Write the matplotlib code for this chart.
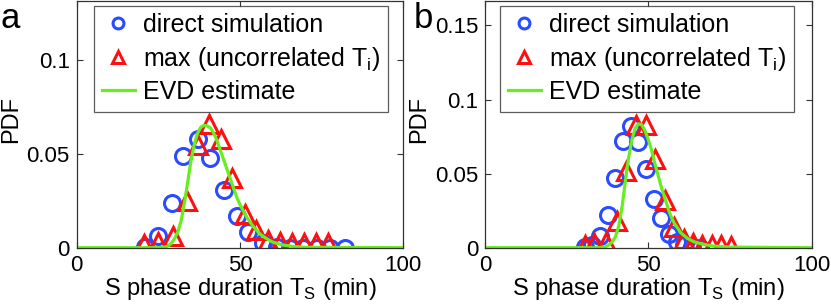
import matplotlib
matplotlib.use('Agg')
import matplotlib.pyplot as plt

plt.rcParams['font.family'] = ['Liberation Sans', 'DejaVu Sans']
plt.rcParams['font.size'] = 17

# panel a: direct simulation (circles)
a_sim_x = [20.9, 25.0, 29.1, 32.7, 37.3, 40.9, 45.1, 49.0, 52.6, 57.1, 61.2, 65.3, 69.4, 73.5, 77.6, 82.1]
a_sim_y = [0.0005, 0.006, 0.024, 0.049, 0.058, 0.048, 0.031, 0.0167, 0.0082, 0.0027, 0.0005, 0.0, 0.0, 0.0, 0.0, 0.0]
# panel a: max of uncorrelated T_i (triangles)
a_max_x = [20.6, 25.0, 29.6, 33.7, 37.0, 40.6, 44.2, 47.7, 51.4, 55.0, 58.7, 62.3, 65.9, 69.5, 73.3, 77.0]
a_max_y = [0.002, 0.003, 0.0065, 0.025, 0.055, 0.066, 0.058, 0.037, 0.018, 0.0095, 0.004, 0.003, 0.0025, 0.0025, 0.0025, 0.0025]
# panel a: EVD estimate
a_evd_x = [0, 25, 27, 28, 29, 30, 31, 32, 33, 34, 35, 36, 37, 38, 39, 40, 41, 42, 43, 44, 45,
           46, 47, 48, 49, 50, 52, 54, 56, 58, 60, 63, 66, 70, 100]
a_evd_y = [0, 0, 0.0003, 0.001, 0.0023, 0.005, 0.0085, 0.0145, 0.024, 0.035, 0.0465, 0.055, 0.061,
           0.0643, 0.0653, 0.065, 0.0638, 0.061, 0.057, 0.052, 0.047, 0.042, 0.037, 0.032, 0.027,
           0.023, 0.0165, 0.0115, 0.0075, 0.005, 0.003, 0.0015, 0.0007, 0.0002, 0]

# panel b
b_sim_x = [30.5, 32.9, 35.2, 37.6, 39.9, 42.3, 44.8, 47.0, 49.3, 51.7, 54.0, 56.4, 58.7, 61.1, 63.4, 65.8]
b_sim_y = [0.0005, 0.002, 0.008, 0.022, 0.047, 0.072, 0.082, 0.071, 0.053, 0.033, 0.020, 0.009, 0.004, 0.0015, 0.0004, 0.0]
b_max_x = [30.5, 33.5, 37.0, 40.4, 43.3, 46.2, 49.3, 52.2, 55.0, 57.9, 60.8, 63.6, 66.6, 69.5, 72.4, 75.4]
b_max_y = [0.002, 0.003, 0.004, 0.018, 0.052, 0.083, 0.083, 0.060, 0.032, 0.014, 0.006, 0.003, 0.002, 0.002, 0.002, 0.001]
b_evd_x = [0, 35, 37, 38, 39, 40, 41, 42, 43, 44, 45, 46, 47, 48, 49, 50, 51, 52, 53, 54, 55,
           56, 57, 58, 60, 62, 64, 67, 70, 75, 100]
b_evd_y = [0, 0, 0.0007, 0.002, 0.004, 0.0075, 0.015, 0.028, 0.045, 0.061, 0.073, 0.0805, 0.0836,
           0.083, 0.079, 0.073, 0.066, 0.057, 0.049, 0.041, 0.034, 0.027, 0.021, 0.0165, 0.010,
           0.0063, 0.004, 0.0022, 0.0011, 0.0004, 0]

xticks = [0, 50, 100]
a_yticks = [0, 0.05, 0.1]
b_yticks = [0, 0.05, 0.1, 0.15]
a_ylabels = ['0', '0.05', '0.1']
b_ylabels = ['0', '0.05', '0.1', '0.15']

blue = '#2a4bff'
red = '#ff1010'
green = '#66ee1e'

W, H = 831, 307
fig = plt.figure(figsize=(W/100, H/100), dpi=100)

def panel(left, ymax, sx, sy, mx, my, ex, ey, yt, yl, leg_x, tag, tag_x):
    ax = fig.add_axes([left/W, 1 - 247.7/H, 326.5/W, 247.0/H])
    ax.plot(sx, sy, 'o', ms=11.5, mfc='none', mec=blue, mew=2.2, label='direct simulation')
    ax.plot(mx, my, '^', ms=13, mfc='none', mec=red, mew=2.2,
            label='max (uncorrelated T$_\\mathregular{i}$)')
    ax.plot(ex, ey, '-', color=green, lw=2.3, label='EVD estimate')
    ax.set_xlim(0, 100)
    ax.set_ylim(0, ymax)
    ax.set_xticks(xticks)
    ax.set_yticks(yt)
    ax.set_yticklabels(yl)
    ax.tick_params(direction='in', top=True, right=True, length=4, width=0.8,
                   color='#333333', labelsize=16)
    ax.tick_params(axis='x', pad=5)
    ax.tick_params(axis='y', pad=5)
    for s in ax.spines.values():
        s.set_color('#333333')
        s.set_linewidth(0.9)
    ax.set_xlabel('S phase duration T$_\\mathregular{S}$ (min)', labelpad=0)
    ax.set_ylabel('PDF')
    ax.yaxis.set_label_coords(-0.168, 0.52)
    leg = ax.legend(loc='upper left', bbox_to_anchor=(leg_x, 0.98), borderaxespad=0,
                    fancybox=False, edgecolor='#333333', markerscale=0.68,
                    handlelength=1.35, handletextpad=0.3, labelspacing=0.3,
                    borderpad=0.3, fontsize=18)
    leg.get_frame().set_linewidth(0.9)
    fig.text(tag_x/W, 1 - 2/H, tag, fontsize=25, va='top', ha='left')
    return ax

panel(76.7, 0.1318, a_sim_x, a_sim_y, a_max_x, a_max_y, a_evd_x, a_evd_y,
      a_yticks, a_ylabels, 0.053, 'a', 0)
panel(485.0, 0.1667, b_sim_x, b_sim_y, b_max_x, b_max_y, b_evd_x, b_evd_y,
      b_yticks, b_ylabels, 0.046, 'b', 414)

fig.savefig('out.png', dpi=100)
